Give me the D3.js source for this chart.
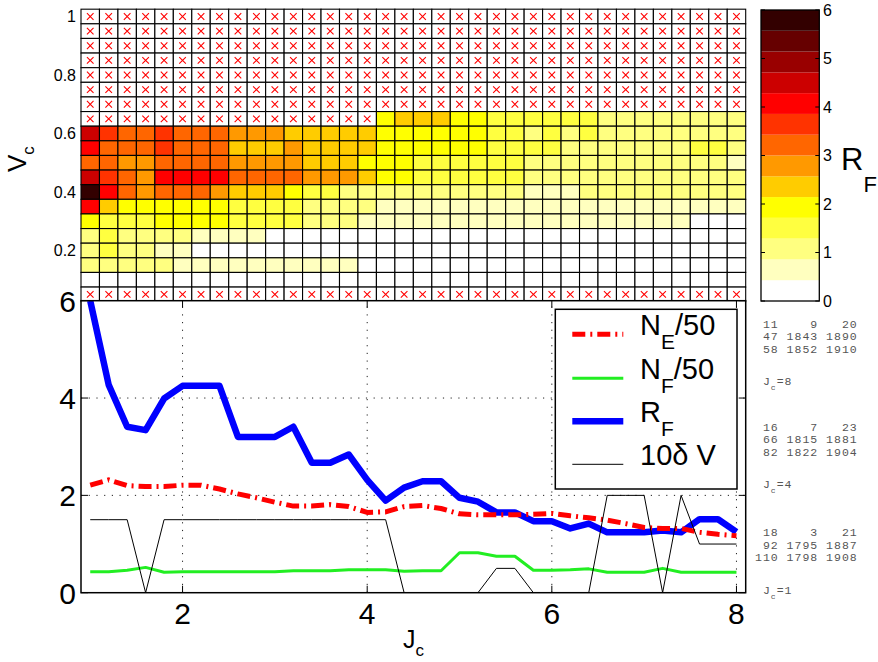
<!DOCTYPE html>
<html><head><meta charset="utf-8">
<script src="https://cdn.jsdelivr.net/npm/d3@7/dist/d3.min.js"></script>
<style>
body{margin:0;background:#fff}
svg{display:block}
text{font-family:"Liberation Sans",Arial,Helvetica,sans-serif;fill:#000}
.mono{font-family:"Liberation Mono","DejaVu Sans Mono",monospace;fill:#555;white-space:pre}
</style>
</head><body>
<svg id="c" width="878" height="662"></svg>
<script>
// ---------------- DATA ----------------
const jc = [1,1.2,1.4,1.6,1.8,2,2.2,2.4,2.6,2.8,3,3.2,3.4,3.6,3.8,4,4.2,4.4,4.6,4.8,5,5.2,5.4,5.6,5.8,6,6.2,6.4,6.6,6.8,7,7.2,7.4,7.6,7.8,8];
const vc = [1,0.95,0.9,0.85,0.8,0.75,0.7,0.65,0.6,0.55,0.5,0.45,0.4,0.35,0.3,0.25,0.2,0.15,0.1,0.05];
const N = null;
// R_F value of each heat-map cell (rows follow vc, columns follow jc); null = not computed (red cross)
const rfGrid = [
 [N,N,N,N,N,N,N,N,N,N,N,N,N,N,N,N,N,N,N,N,N,N,N,N,N,N,N,N,N,N,N,N,N,N,N,N],
 [N,N,N,N,N,N,N,N,N,N,N,N,N,N,N,N,N,N,N,N,N,N,N,N,N,N,N,N,N,N,N,N,N,N,N,N],
 [N,N,N,N,N,N,N,N,N,N,N,N,N,N,N,N,N,N,N,N,N,N,N,N,N,N,N,N,N,N,N,N,N,N,N,N],
 [N,N,N,N,N,N,N,N,N,N,N,N,N,N,N,N,N,N,N,N,N,N,N,N,N,N,N,N,N,N,N,N,N,N,N,N],
 [N,N,N,N,N,N,N,N,N,N,N,N,N,N,N,N,N,N,N,N,N,N,N,N,N,N,N,N,N,N,N,N,N,N,N,N],
 [N,N,N,N,N,N,N,N,N,N,N,N,N,N,N,N,N,N,N,N,N,N,N,N,N,N,N,N,N,N,N,N,N,N,N,N],
 [N,N,N,N,N,N,N,N,N,N,N,N,N,N,N,N,N,N,N,N,N,N,N,N,N,N,N,N,N,N,N,N,N,N,N,N],
 [N,N,N,N,N,N,N,N,N,N,N,N,N,N,N,N,1.9,2.4,2.4,2.4,1.9,1.9,1.5,1.5,1.5,1.5,1.5,1.5,1.1,1.1,1.1,1.1,1.1,1.1,1.1,1.1],
 [4.5,3.6,3.2,3.2,3.6,3.2,3.2,3.2,2.8,2.8,2.8,2.4,2.4,2.4,2.4,2.4,1.9,1.9,1.9,1.9,1.9,1.9,1.5,1.5,1.1,1.5,1.1,1.5,1.1,1.1,1.1,1.1,1.1,1.1,1.1,1.1],
 [4.1,3.2,3.2,3.2,3.6,3.2,3.2,3.2,2.4,2.4,2.4,2.8,2.4,2.4,2.4,2.4,1.9,1.9,1.9,1.9,1.9,1.9,1.5,1.5,1.5,1.5,1.1,1.1,1.1,1.1,1.1,1.1,1.1,1.5,1.5,1.1],
 [3.2,3.2,2.8,2.8,3.2,3.2,3.2,3.2,2.8,2.8,2.8,2.8,2.4,2.4,2.4,1.9,1.9,1.9,1.5,1.5,1.5,1.5,1.5,1.5,1.1,1.1,1.1,1.1,1.1,1.1,1.1,1.1,1.1,1.1,1.1,0.6],
 [4.5,3.6,3.2,2.8,4.1,4.1,4.1,4.1,3.2,3.2,3.2,3.2,2.8,2.8,2.8,2.4,1.9,1.9,1.5,1.5,1.5,1.5,1.5,1.5,1.1,1.1,1.1,1.1,1.1,1.1,1.1,1.1,1.1,1.1,1.1,1.1],
 [5.8,4.1,3.2,2.8,3.2,3.2,3.2,2.8,2.4,2.4,2.4,1.9,1.5,1.5,1.1,1.1,1.1,1.1,1.1,1.1,1.1,1.1,1.1,1.1,0.6,0.6,0.6,1.1,1.1,1.1,1.1,1.1,1.1,1.1,1.1,1.1],
 [4.1,2.4,1.9,1.9,1.9,1.9,1.9,1.9,1.5,1.5,1.5,1.5,1.1,1.1,1.1,1.1,0.6,0.6,0.6,0.6,0.6,0.6,0.6,0.6,0.6,0.6,0.6,0.6,0.6,0.6,0.6,0.6,0.6,0.6,0.6,0.6],
 [1.9,1.5,1.5,1.5,1.9,1.9,1.9,1.9,1.5,1.5,1.5,1.5,1.1,1.1,1.1,0.6,0.6,0.6,0.6,0.6,0.6,0.6,0.6,0.6,0.6,0.6,0.6,0.6,0.6,0.6,0.6,0.6,0.6,0.2,0.2,0.2],
 [1.1,1.5,1.1,1.1,1.1,1.1,0.6,0.6,0.6,0.6,0.2,0.2,0.2,0.2,0.2,0.2,0.2,0.2,0.2,0.2,0.2,0.2,0.2,0.2,0.2,0.2,0.2,0.2,0.2,0.2,0.2,0.2,0.2,0.2,0.2,0.2],
 [1.1,1.5,1.1,1.1,0.6,0.6,0.2,0.2,0.2,0.2,0.2,0.2,0.2,0.2,0.2,0.2,0.2,0.2,0.2,0.2,0.2,0.2,0.2,0.2,0.2,0.2,0.2,0.2,0.2,0.2,0.2,0.2,0.2,0.2,0.2,0.2],
 [1.1,1.1,1.1,1.1,1.1,0.6,0.6,0.6,0.6,0.6,0.6,0.6,0.6,0.6,0.6,0.2,0.2,0.2,0.2,0.2,0.2,0.2,0.2,0.2,0.2,0.2,0.2,0.2,0.2,0.2,0.2,0.2,0.2,0.2,0.2,0.2],
 [0.2,0.2,0.2,0.2,0.2,0.2,0.2,0.2,0.2,0.2,0.2,0.2,0.2,0.2,0.2,0.2,0.2,0.2,0.2,0.2,0.2,0.2,0.2,0.2,0.2,0.2,0.2,0.2,0.2,0.2,0.2,0.2,0.2,0.2,0.2,0.2],
 [N,N,N,N,N,N,N,N,N,N,N,N,N,N,N,N,N,N,N,N,N,N,N,N,N,N,N,N,N,N,N,N,N,N,N,N]
];
const nE50 = [2.21,2.32,2.2,2.18,2.18,2.21,2.21,2.13,2.03,1.95,1.86,1.78,1.78,1.81,1.77,1.65,1.66,1.77,1.79,1.73,1.62,1.6,1.6,1.6,1.61,1.63,1.58,1.54,1.49,1.42,1.34,1.32,1.32,1.24,1.2,1.17];
const nF50 = [0.43,0.43,0.46,0.52,0.42,0.43,0.43,0.43,0.43,0.43,0.43,0.45,0.45,0.45,0.47,0.47,0.47,0.44,0.45,0.45,0.82,0.82,0.75,0.75,0.46,0.46,0.47,0.49,0.42,0.42,0.42,0.5,0.42,0.42,0.42,0.42];
const rF = [6.0,4.27,3.41,3.34,3.99,4.25,4.25,4.25,3.2,3.2,3.2,3.41,2.67,2.67,2.84,2.32,1.89,2.16,2.29,2.29,1.95,1.87,1.65,1.65,1.47,1.47,1.32,1.42,1.24,1.24,1.24,1.28,1.24,1.51,1.51,1.25];
const dV10 = [1.5,1.5,1.5,0,1.5,1.5,1.5,1.5,1.5,1.5,1.5,1.5,1.5,1.5,1.5,1.5,1.5,0,0,0,0,0,0.5,0.5,0,0,0,0,2,2,2,0,2,1,1,1];
const heatYTicks = [0.2,0.4,0.6,0.8,1];
const heatYLabels = ["0.2","0.4","0.6","0.8","1"];
const lineXTicks = [2,4,6,8];
const lineYTicks = [0,2,4,6];
const cbarTicks = [0,1,2,3,4,5,6];
const hotColors = ["#ffffff","#ffffbf","#ffff80","#ffff40","#ffff00","#ffcc00","#ff9900","#ff6600","#ff3300","#ff0000","#cc0000","#990000","#660000","#330000"];
const legendItems = [
  {main:"N", sub:"E", tail:"/50", color:"#ff0000", width:5, dash:"13,5,2,5"},
  {main:"N", sub:"F", tail:"/50", color:"#22ee22", width:3, dash:null},
  {main:"R", sub:"F", tail:"", color:"#0000ff", width:6.5, dash:null},
  {main:"10\u03b4 V", sub:"", tail:"", color:"#000000", width:1, dash:null}
];
const annotations = [
  {lines:[" 11    9   20"," 47 1843 1890"," 58 1852 1910"], jc:"8"},
  {lines:[" 16    7   23"," 66 1815 1881"," 82 1822 1904"], jc:"4"},
  {lines:[" 18    3   21"," 92 1795 1887","110 1798 1908"], jc:"1"}
];

// ---------------- DRAW ----------------
const svg = d3.select("#c");
const L = 81, R = 745.7;
const x = d3.scaleLinear().domain([0.9, 8.1]).range([L, R]);
const hy = d3.scaleLinear().domain([0, 1]).range([309, 16.5]);
const color = d3.scaleQuantize().domain([0, 6]).range(hotColors);

// heat map
const cells = [];
rfGrid.forEach((row, ri) => row.forEach((v, ci) => cells.push({j: jc[ci], v: vc[ri], val: v})));
const hg = svg.append("g");
hg.selectAll("rect").data(cells).join("rect")
  .attr("x", d => x(d.j - 0.1)).attr("width", d => x(d.j + 0.1) - x(d.j - 0.1))
  .attr("y", d => hy(d.v + 0.025)).attr("height", d => hy(d.v - 0.025) - hy(d.v + 0.025))
  .attr("fill", d => d.val == null ? "#fff" : color(d.val))
  .attr("stroke", "#000").attr("stroke-width", 1.1);
const cs = 3.3;
hg.selectAll("path.cross").data(cells.filter(d => d.val == null)).join("path")
  .attr("class", "cross")
  .attr("d", d => { const cx = x(d.j), cy = hy(d.v);
    return `M${cx-cs},${cy-cs}L${cx+cs},${cy+cs}M${cx-cs},${cy+cs}L${cx+cs},${cy-cs}`; })
  .attr("stroke", "#ff0000").attr("stroke-width", 1.1).attr("fill", "none");
hg.selectAll("text.hyt").data(heatYTicks).join("text").attr("class","hyt")
  .attr("x", 76).attr("y", d => hy(d)).attr("dy", "0.36em")
  .attr("text-anchor", "end").attr("font-size", 16).text((d, i) => heatYLabels[i]);
// V_c label
const vl = svg.append("text").attr("transform", "translate(26,172) rotate(-90)").attr("font-size", 26);
vl.append("tspan").text("V");
vl.append("tspan").attr("font-size", 17).attr("dy", 8).text("c");

// colorbar
const cbX0 = 761, cbX1 = 819.3;
const cy = d3.scaleLinear().domain([0, 6]).range([301, 10]);
const bins = d3.range(hotColors.length);
svg.append("g").selectAll("rect").data(bins).join("rect")
  .attr("x", cbX0).attr("width", cbX1 - cbX0)
  .attr("y", i => cy((i + 1) * 6 / hotColors.length))
  .attr("height", i => cy(i * 6 / hotColors.length) - cy((i + 1) * 6 / hotColors.length))
  .attr("fill", i => hotColors[i]);
svg.append("rect").attr("x", cbX0).attr("y", 10).attr("width", cbX1 - cbX0).attr("height", 291)
  .attr("fill", "none").attr("stroke", "#000").attr("stroke-width", 1.3);
const cbt = svg.append("g");
cbt.selectAll("path").data(cbarTicks).join("path")
  .attr("d", d => `M${cbX0},${cy(d)}h4M${cbX1},${cy(d)}h-4`).attr("stroke", "#000");
cbt.selectAll("text").data(cbarTicks).join("text")
  .attr("x", 823).attr("y", d => cy(d)).attr("dy", "0.36em").attr("font-size", 16).text(d => d);
const rl = svg.append("text").attr("x", 841).attr("y", 170).attr("font-size", 31);
rl.append("tspan").text("R");
rl.append("tspan").attr("font-size", 22).attr("dy", 22).text("F");

// line plot
const T = 300.7, B = 592.7;
const y = d3.scaleLinear().domain([0, 6]).range([B, T]);
const lg = svg.append("g");
lg.append("rect").attr("x", L).attr("y", T).attr("width", R - L).attr("height", B - T).attr("fill", "#fff");
svg.append("clipPath").attr("id", "clip").append("rect").attr("x", L).attr("y", T).attr("width", R - L).attr("height", B - T);
// grid
const dash = "1.2,6.5";
lg.selectAll("line.gx").data(lineXTicks).join("line").attr("class", "gx")
  .attr("x1", d => x(d)).attr("x2", d => x(d)).attr("y1", B).attr("y2", T)
  .attr("stroke", "#222").attr("stroke-width", 1).attr("stroke-dasharray", dash);
lg.selectAll("line.gy").data([2, 4]).join("line").attr("class", "gy")
  .attr("y1", d => y(d)).attr("y2", d => y(d)).attr("x1", L).attr("x2", R)
  .attr("stroke", "#222").attr("stroke-width", 1).attr("stroke-dasharray", dash);

const series = [
  {vals: rF, color: "#0000ff", width: 6.5, dash: null},
  {vals: nE50, color: "#ff0000", width: 5, dash: "13,5,2,5"},
  {vals: nF50, color: "#22ee22", width: 3, dash: null},
  {vals: dV10, color: "#000", width: 1, dash: null}
];
const line = d3.line().x((d, i) => x(jc[i])).y(d => y(d));
const pg = lg.append("g").attr("clip-path", "url(#clip)");
series.forEach(s => {
  pg.append("path").attr("d", line(s.vals)).attr("fill", "none")
    .attr("stroke", s.color).attr("stroke-width", s.width)
    .attr("stroke-linejoin", "round")
    .attr("stroke-dasharray", s.dash);
});
// axes box & ticks
lg.append("rect").attr("x", L).attr("y", T).attr("width", R - L).attr("height", B - T)
  .attr("fill", "none").attr("stroke", "#000").attr("stroke-width", 1.5);
lg.selectAll("path.tx").data(lineXTicks).join("path").attr("class", "tx")
  .attr("d", d => `M${x(d)},${B}v-7M${x(d)},${T}v7`).attr("stroke", "#000");
lg.selectAll("path.ty").data(lineYTicks).join("path").attr("class", "ty")
  .attr("d", d => `M${L},${y(d)}h7M${R},${y(d)}h-7`).attr("stroke", "#000");
lg.selectAll("text.xt").data(lineXTicks).join("text").attr("class", "xt")
  .attr("x", d => x(d)).attr("y", 624).attr("text-anchor", "middle").attr("font-size", 30).text(d => d);
lg.selectAll("text.yt").data(lineYTicks).join("text").attr("class", "yt")
  .attr("x", 76).attr("y", d => y(d)).attr("dy", "0.36em").attr("text-anchor", "end").attr("font-size", 30).text(d => d);
const jl = svg.append("text").attr("x", 403).attr("y", 648).attr("font-size", 25);
jl.append("tspan").text("J");
jl.append("tspan").attr("font-size", 17).attr("dy", 8).text("c");

// legend
const lgd = svg.append("g");
lgd.append("rect").attr("x", 555.3).attr("y", 309.3).attr("width", 181.7).attr("height", 179.7)
  .attr("fill", "#fff").attr("stroke", "#000").attr("stroke-width", 1.5);
const legY = [334.3, 378.3, 421.3, 464.3];
legendItems.forEach((it, i) => {
  lgd.append("line").attr("x1", 572.3).attr("x2", 623.3).attr("y1", legY[i]).attr("y2", legY[i])
    .attr("stroke", it.color).attr("stroke-width", it.width).attr("stroke-dasharray", it.dash);
  const t = lgd.append("text").attr("x", 640).attr("y", legY[i] + 1).attr("font-size", 29);
  t.append("tspan").text(it.main);
  if (it.sub) t.append("tspan").attr("font-size", 21).attr("dy", 14).text(it.sub);
  if (it.tail) t.append("tspan").attr("dy", -14).text(it.tail);
});

// annotations
const ag = svg.append("g");
const blockY = [327.5, 430.7, 536];
annotations.forEach((a, bi) => {
  a.lines.forEach((s, li) => {
    ag.append("text").attr("class", "mono").attr("x", 755).attr("y", blockY[bi] + li * 12.7)
      .attr("font-size", 11.5).attr("letter-spacing", 1).text(s);
  });
  const t = ag.append("text").attr("class", "mono").attr("x", 755).attr("y", blockY[bi] + 57.5)
    .attr("font-size", 11.5).attr("letter-spacing", 1);
  t.append("tspan").text(" J");
  t.append("tspan").attr("font-size", 8).attr("dy", 5).text("c");
  t.append("tspan").attr("dy", -5).text("=" + a.jc);
});
</script>
</body></html>
